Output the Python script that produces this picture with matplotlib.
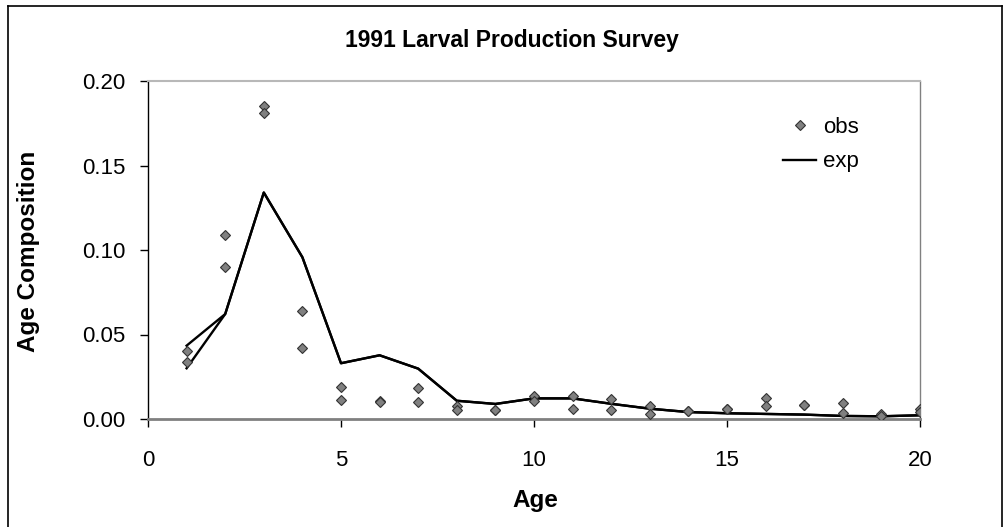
import numpy as np
import matplotlib.pyplot as plt
from matplotlib.lines import Line2D

plt.rcParams['font.family'] = ['Liberation Sans', 'DejaVu Sans']

# Donnees
ages = np.arange(1, 21)
obs_a = [0.0401, 0.1089, 0.1855, 0.0641, 0.0188, 0.0108, 0.0182, 0.0077, 0.0055, 0.0136,
         0.0136, 0.0118, 0.0077, 0.0049, 0.0059, 0.0122, 0.0081, 0.0093, 0.0030, 0.0059]
obs_b = [0.0339, 0.0901, 0.1810, 0.0418, 0.0110, 0.0101, 0.0099, 0.0053, 0.0055, 0.0107,
         0.0061, 0.0053, 0.0030, 0.0049, 0.0059, 0.0077, 0.0081, 0.0037, 0.0020, 0.0043]
exp_a = [0.0434, 0.0621, 0.1340, 0.0957, 0.0330, 0.0377, 0.0298, 0.0108, 0.0089, 0.0122,
         0.0122, 0.0090, 0.0061, 0.0041, 0.0034, 0.0030, 0.0026, 0.0018, 0.0016, 0.0022]
exp_b = [0.0300] + exp_a[1:]

fig = plt.figure(figsize=(10.06, 5.27), dpi=100)
ax = fig.add_axes([148 / 1006, 1 - 419 / 527, 772 / 1006, 338 / 527])

ax.plot(ages, exp_a, color='black', lw=1.7, zorder=2)
ax.plot(ages, exp_b, color='black', lw=1.7, zorder=2)
mk = dict(marker='D', ls='none', ms=5.5, mfc='#808080', mec='#333333', mew=0.8, zorder=3)
ax.plot(ages, obs_a, **mk)
ax.plot(ages, obs_b, **mk)

ax.set_xlim(0, 20)
ax.set_ylim(0, 0.20)
ax.set_xticks([0, 5, 10, 15, 20])
ax.set_yticks([0, 0.05, 0.10, 0.15, 0.20])
ax.set_yticklabels(['0.00', '0.05', '0.10', '0.15', '0.20'])
ax.tick_params(labelsize=16, length=6, width=1, direction='out', color='black')
ax.tick_params(axis='y', pad=10)
ax.tick_params(axis='x', pad=16)

ax.spines['left'].set_color('black')
ax.spines['left'].set_linewidth(1)
ax.spines['bottom'].set_color('#808080')
ax.spines['bottom'].set_linewidth(2)
ax.spines['top'].set_color('#b8b8b8')
ax.spines['top'].set_linewidth(1.5)
ax.spines['right'].set_color('#808080')
ax.spines['right'].set_linewidth(1)

fig.text(512 / 1006, 1 - 40 / 527, '1991 Larval Production Survey', ha='center', va='center',
         fontsize=16.5, fontweight='bold')
fig.text(535 / 1006, 1 - 501 / 527, 'Age', ha='center', va='center', fontsize=17.5, fontweight='bold')
fig.text(29 / 1006, 1 - 251 / 527, 'Age Composition', ha='center', va='center', rotation=90,
         fontsize=17.5, fontweight='bold')

handles = [Line2D([], [], **mk), Line2D([], [], color='black', lw=1.7)]
ax.legend(handles, ['obs', 'exp'], loc='upper left', bbox_to_anchor=(763 / 1006, 1 - 97 / 527),
          bbox_transform=fig.transFigure, frameon=False, fontsize=16, handlelength=1.5,
          handletextpad=0.3, labelspacing=0.6)

# cadre
frame = dict(color='black', lw=1.2, transform=fig.transFigure, clip_on=False)
fig.add_artist(Line2D([8 / 1006, 8 / 1006], [0, 1 - 6 / 527], **frame))
fig.add_artist(Line2D([8 / 1006, 1002 / 1006], [1 - 6 / 527, 1 - 6 / 527], **frame))
fig.add_artist(Line2D([1002 / 1006, 1002 / 1006], [0, 1 - 6 / 527], **frame))

fig.savefig('out.png', dpi=100)
